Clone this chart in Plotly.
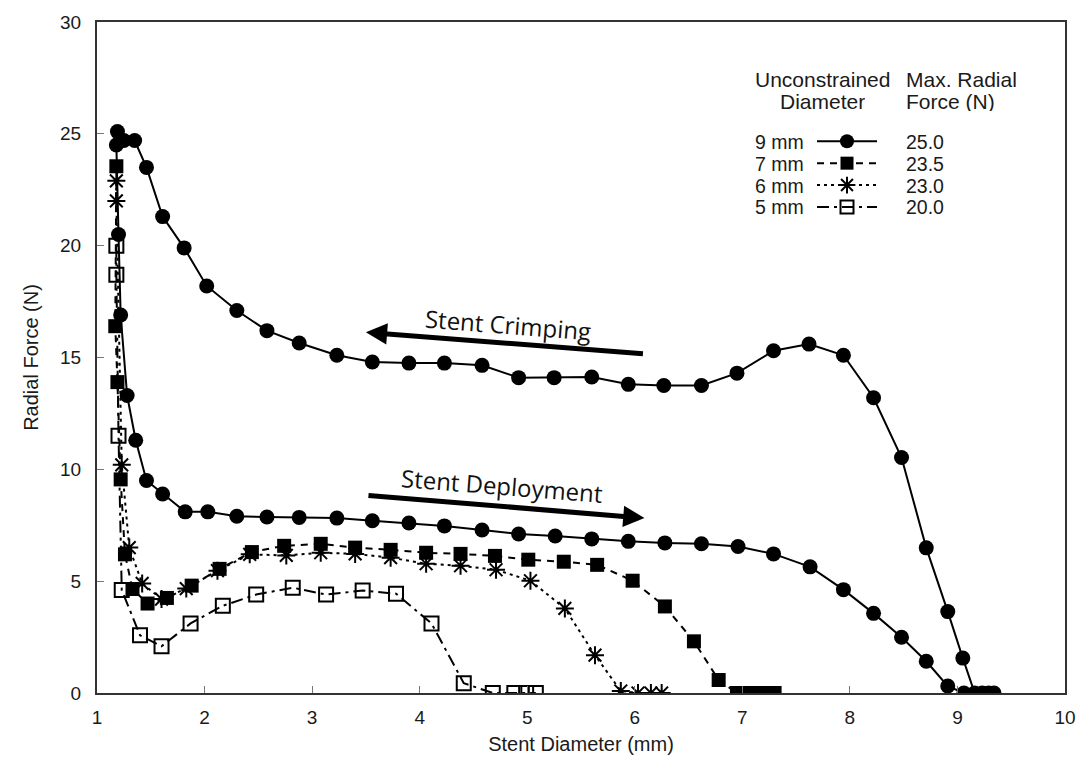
import plotly.graph_objects as go

# ---------------- data ----------------
d9_x = [9.34, 9.29, 9.23, 9.16, 9.05, 8.91, 8.71, 8.48, 8.22, 7.94, 7.62, 7.29, 6.95, 6.62, 6.27,
        5.94, 5.60, 5.25, 4.92, 4.58, 4.23, 3.90, 3.56, 3.23, 2.88, 2.58, 2.30, 2.02, 1.81, 1.61,
        1.46, 1.35, 1.25, 1.19, 1.18,
        1.20, 1.22, 1.28, 1.36, 1.46, 1.61, 1.82, 2.03, 2.30, 2.58, 2.88, 3.23, 3.56, 3.90, 4.23,
        4.58, 4.92, 5.26, 5.60, 5.94, 6.28, 6.62, 6.96, 7.29, 7.63, 7.94, 8.22, 8.48, 8.71, 8.91, 9.06]
d9_y = [0.0, 0.0, 0.0, 0.0, 1.56, 3.64, 6.49, 10.53, 13.2, 15.1, 15.6, 15.3, 14.3, 13.75, 13.75,
        13.8, 14.13, 14.1, 14.1, 14.65, 14.75, 14.75, 14.8, 15.1, 15.65, 16.2, 17.1, 18.2, 19.9, 21.3,
        23.5, 24.7, 24.7, 25.1, 24.5,
        20.5, 16.9, 13.3, 11.3, 9.5, 8.9, 8.1, 8.1, 7.9, 7.87, 7.85, 7.82, 7.7, 7.6, 7.47,
        7.29, 7.11, 7.02, 6.89, 6.78, 6.71, 6.67, 6.55, 6.22, 5.64, 4.62, 3.56, 2.49, 1.42, 0.31, 0.0]

d7_x = [1.18, 1.17, 1.19, 1.22, 1.26, 1.33, 1.47, 1.65, 1.88, 2.14, 2.44, 2.74, 3.08, 3.40, 3.73,
        4.06, 4.38, 4.70, 5.01, 5.34, 5.65, 5.98, 6.28, 6.55, 6.78, 6.95, 7.05, 7.12, 7.18, 7.25, 7.30]
d7_y = [23.55, 16.4, 13.9, 9.55, 6.2, 4.65, 4.0, 4.25, 4.8, 5.55, 6.3, 6.58, 6.67, 6.5, 6.4,
        6.27, 6.22, 6.13, 5.96, 5.87, 5.73, 5.02, 3.87, 2.31, 0.58, 0.0, 0.0, 0.0, 0.0, 0.0, 0.0]

d6_x = [1.18, 1.18, 1.23, 1.30, 1.42, 1.60, 1.83, 2.12, 2.42, 2.76, 3.08, 3.40, 3.73, 4.06, 4.38,
        4.71, 5.03, 5.35, 5.63, 5.87, 6.03, 6.15, 6.25]
d6_y = [22.9, 22.0, 10.2, 6.5, 4.9, 4.2, 4.67, 5.47, 6.2, 6.15, 6.27, 6.22, 6.05, 5.78, 5.69,
        5.51, 5.02, 3.78, 1.69, 0.09, 0.0, 0.0, 0.0]

d5_x = [1.18, 1.18, 1.20, 1.23, 1.40, 1.60, 1.87, 2.17, 2.48, 2.82, 3.13, 3.47, 3.78, 4.11, 4.41,
        4.68, 4.88, 4.99, 5.08]
d5_y = [20.0, 18.7, 11.5, 4.6, 2.58, 2.09, 3.11, 3.9, 4.4, 4.71, 4.4, 4.58, 4.44, 3.11, 0.44,
        0.0, 0.0, 0.0, 0.0]

series_labels = ["9 mm", "7 mm", "6 mm", "5 mm"]
max_force = ["25.0", "23.5", "23.0", "20.0"]
x_ticks = [1, 2, 3, 4, 5, 6, 7, 8, 9, 10]
y_ticks = [0, 5, 10, 15, 20, 25, 30]

# ---------------- styles ----------------
FONT = "Liberation Sans, Arial, sans-serif"
W, H = 1088, 767
L, R, T, B = 97, 23, 18, 74
PW, PH = W - L - R, H - T - B

styles = [
    dict(dash="solid", symbol="circle", size=15, mlw=0),
    dict(dash="7px,6px", symbol="square", size=14, mlw=0),
    dict(dash="3px,4px", symbol="asterisk-open", size=15, mlw=2),
    dict(dash="12px,5px,3px,5px", symbol="square-open", size=14, mlw=2),
]
datasets = [(d9_x, d9_y), (d7_x, d7_y), (d6_x, d6_y), (d5_x, d5_y)]

fig = go.Figure()
for (xs, ys), st in zip(datasets, styles):
    fig.add_trace(go.Scatter(
        x=xs, y=ys, mode="lines+markers", showlegend=False,
        line=dict(color="black", width=2, dash=st["dash"]),
        marker=dict(symbol=st["symbol"], size=st["size"], color="black",
                    line=dict(color="black", width=st["mlw"])),
    ))

# legend samples on a pixel-based overlay axis
leg_rows_y = [138, 160, 182, 204]
for ry, st in zip(leg_rows_y, styles):
    fig.add_trace(go.Scatter(
        x=[817, 877], y=[ry, ry], mode="lines", showlegend=False,
        line=dict(color="black", width=2, dash=st["dash"]),
        xaxis="x2", yaxis="y2", hoverinfo="skip"))
    fig.add_trace(go.Scatter(
        x=[847], y=[ry], mode="markers", showlegend=False,
        marker=dict(symbol=st["symbol"], size=st["size"] - 1, color="black",
                    line=dict(color="black", width=st["mlw"])),
        xaxis="x2", yaxis="y2", hoverinfo="skip"))


def px(xp):
    return (xp - L) / PW


def py(yp):
    return (H - B - yp) / PH


annotations = []
hf = dict(family=FONT, size=21, color="#1a1a1a")
lf = dict(family=FONT, size=19.5, color="#1a1a1a")
vf = dict(family=FONT, size=19.5, color="#1a1a1a")
for txt, cy in [("Unconstrained", 75), ("Diameter", 97)]:
    annotations.append(dict(text=txt, x=px(822), y=py(cy), xref="paper", yref="paper",
                            xanchor="center", yanchor="middle", showarrow=False, font=hf,
                            height=20, borderpad=0))
for txt, cy in [("Max. Radial", 75), ("Force (N)", 97)]:
    annotations.append(dict(text=txt, x=px(905), y=py(cy), xref="paper", yref="paper",
                            xanchor="left", yanchor="middle", showarrow=False, font=hf,
                            height=20, borderpad=0))
for lab, val, ry in zip(series_labels, max_force, leg_rows_y):
    annotations.append(dict(text=lab, x=px(805), y=py(ry), xref="paper", yref="paper",
                            xanchor="right", yanchor="middle", showarrow=False, font=lf,
                            height=19, borderpad=0))
    annotations.append(dict(text=val, x=px(905), y=py(ry), xref="paper", yref="paper",
                            xanchor="left", yanchor="middle", showarrow=False, font=vf,
                            height=19, borderpad=0))

# arrows and labels
af = dict(family="Open Sans, sans-serif", size=24, color="#111")
annotations += [
    dict(x=3.50, y=16.13, ax=6.09, ay=15.16, xref="x", yref="y", axref="x", ayref="y",
         text="", showarrow=True, arrowhead=2, arrowsize=0.85, arrowwidth=5,
         arrowcolor="black", standoff=0, startstandoff=0),
    dict(x=6.09, y=7.82, ax=3.51, ay=8.84, xref="x", yref="y", axref="x", ayref="y",
         text="", showarrow=True, arrowhead=2, arrowsize=0.85, arrowwidth=5,
         arrowcolor="black", standoff=0, startstandoff=0),
    dict(x=4.82, y=16.49, xref="x", yref="y", text="Stent Crimping", showarrow=False,
         textangle=4.5, font=af),
    dict(x=4.77, y=9.29, xref="x", yref="y", text="Stent Deployment", showarrow=False,
         textangle=4.5, font=af),
]

axis_common = dict(showline=True, mirror=True, linecolor="#333", linewidth=2,
                   ticks="inside", ticklen=7, tickcolor="#777", tickwidth=1,
                   showgrid=False, zeroline=False,
                   tickfont=dict(family=FONT, size=19, color="#1a1a1a"))

fig.update_layout(
    width=W, height=H,
    margin=dict(l=L, r=R, t=T, b=B),
    paper_bgcolor="white", plot_bgcolor="white",
    xaxis=dict(range=[1, 10], tickvals=x_ticks, ticklabelstandoff=6, **axis_common,
               title=dict(text="Stent Diameter (mm)", standoff=10,
                          font=dict(family=FONT, size=20, color="#1a1a1a"))),
    yaxis=dict(range=[0, 30], tickvals=y_ticks, ticklabelstandoff=10, **axis_common,
               title=dict(text="Radial Force (N)", standoff=16,
                          font=dict(family=FONT, size=20, color="#1a1a1a"))),
    xaxis2=dict(range=[L, W - R], overlaying="x", visible=False, fixedrange=True),
    yaxis2=dict(range=[H - B, T], overlaying="y", visible=False, fixedrange=True),
    annotations=annotations,
)

fig.write_html("out.html")
